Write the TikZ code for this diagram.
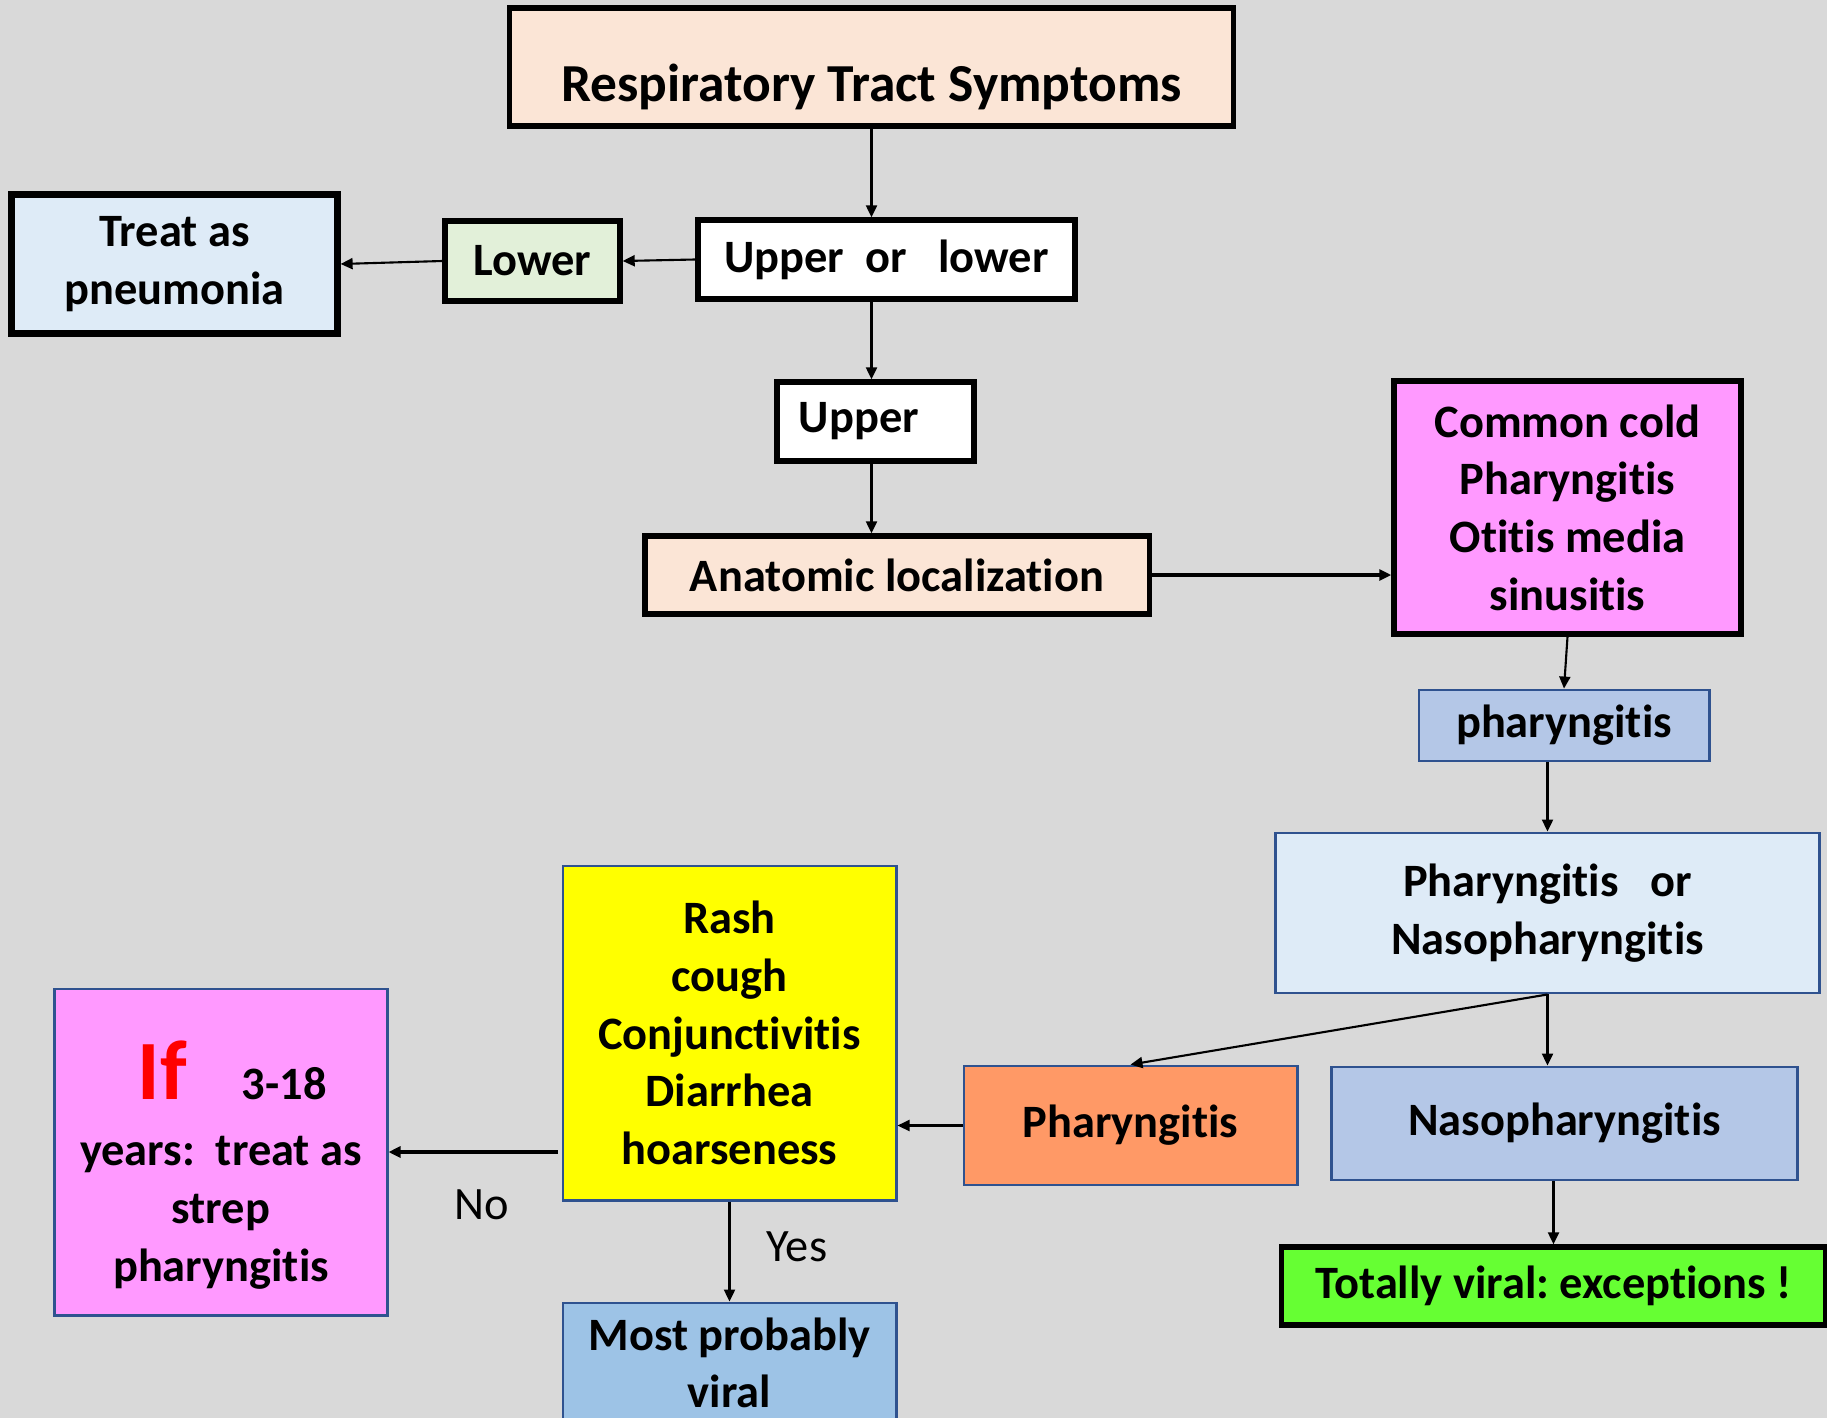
\documentclass[tikz,border=0pt]{standalone}
\usepackage{fontspec}
\setmainfont{Carlito}[Ligatures=CommonOff]
\usepackage{tikz}
\usetikzlibrary{arrows.meta}
\definecolor{rtBack}{HTML}{D9D9D9}
\definecolor{rtPeach}{HTML}{FBE5D6}
\definecolor{rtMint}{HTML}{E2F0D9}
\definecolor{rtIce}{HTML}{DEEBF7}
\definecolor{rtPink}{HTML}{FF99FF}
\definecolor{rtSteel}{HTML}{B4C7E7}
\definecolor{rtSky}{HTML}{9DC3E6}
\definecolor{rtOrange}{HTML}{FF9966}
\definecolor{rtLime}{HTML}{66FF33}
\definecolor{rtYellow}{HTML}{FFFF00}
\definecolor{rtEdge}{HTML}{2F528F}
\frenchspacing
\tikzset{
  rt diagram/.style={x=0.01cm, y=-0.01cm,
    font=\fontsize{13.2}{16.4}\selectfont\bfseries},
  rt box/.style={draw=black, line width=1.5pt, rectangle,
    align=center, inner sep=0pt},
  rt thin box/.style={rt box, draw=rtEdge, line width=0.8pt},
  rt arrow/.style={-{Triangle[length=1.2mm,width=1.1mm]}, line width=0.6pt},
  rt thick arrow/.style={rt arrow, line width=1.1pt},
  rt label/.style={font=\fontsize{13.2}{16.4}\selectfont\mdseries, inner sep=0pt}
}

\begin{document}
\begin{tikzpicture}[rt diagram]
\useasboundingbox (0,0) rectangle (1827,1418);
\fill[rtBack] (0,0) rectangle (1827,1418);
\clip (0,0) rectangle (1827,1418);
% upper part
\node[rt box, fill=rtPeach, minimum width=7.23cm, minimum height=1.18cm,
  font=\fontsize{15.2}{18}\selectfont\bfseries,
  text height=23.8pt, text depth=4pt] (symptoms) at (871.5,67) {Respiratory Tract Symptoms};
\node[rt box, fill=white, minimum width=3.77cm, minimum height=0.79cm] (upperlower) at (886.5,259.5) {Upper\ \ or\ \ \ lower};
\node[rt box, fill=rtMint, minimum width=1.75cm, minimum height=0.80cm] (lower) at (532.5,261) {Lower};
\node[rt box, fill=rtIce, line width=2pt, minimum width=3.25cm, minimum height=1.38cm] (pneumonia) at (174.5,264) {Treat as\\pneumonia};
\node[rt box, fill=white, minimum width=1.97cm, minimum height=0.79cm,
  text width=1.53cm, align=left, inner xsep=0.22cm] (upper) at (875.5,421.5) {Upper};
\node[rt box, fill=rtPeach, minimum width=5.04cm, minimum height=0.78cm] (anatomic) at (897,575) {Anatomic localization};
\node[rt box, fill=rtPink, minimum width=3.47cm, minimum height=2.53cm] (diseases) at (1567.5,507.5) {Common cold\\Pharyngitis\\Otitis media\\sinusitis};
% right branch
\node[rt thin box, fill=rtSteel, minimum width=2.90cm, minimum height=0.71cm] (pharyngitis) at (1564,725.5) {pharyngitis};
\node[rt thin box, fill=rtIce, minimum width=5.43cm, minimum height=1.60cm] (either) at (1547.5,913) {Pharyngitis\ \ \ or\\Nasopharyngitis};
\node[rt thin box, fill=rtOrange, minimum width=3.33cm, minimum height=1.19cm] (pharynx) at (1130.5,1125.5) {Pharyngitis};
\node[rt thin box, fill=rtSteel, minimum width=4.65cm, minimum height=1.13cm] (naso) at (1564.5,1123.5) {Nasopharyngitis};
\node[rt box, fill=rtLime, minimum width=5.43cm, minimum height=0.78cm] (viral) at (1553.5,1286) {Totally viral: exceptions !};
% left branch
\node[rt thin box, fill=rtYellow, minimum width=3.33cm, minimum height=3.34cm] (signs) at (729.5,1033) {Rash\\cough\\Conjunctivitis\\Diarrhea\\hoarseness};
\node[rt thin box, fill=rtPink, minimum width=3.32cm, minimum height=3.26cm] (strep) at (221,1152)
  {\hspace*{0.22cm}\rule{0pt}{24pt}{\fontsize{24}{24}\selectfont\color{red}If}\hspace{0.55cm}3-18\\[2.5pt]years:\ \ treat as\\strep\\pharyngitis};
\node[rt thin box, fill=rtSky, minimum width=3.33cm, minimum height=1.20cm] (probable) at (729.5,1363) {Most probably\\viral};
% connectors
\draw[rt arrow] (symptoms.south) -- (symptoms.south |- upperlower.north);
\draw[rt arrow] (upperlower.west) -- (lower.east);
\draw[rt arrow] (lower.west) -- (pneumonia.east);
\draw[rt arrow] (upperlower.south -| symptoms.south) -- (upper.north -| symptoms.south);
\draw[rt arrow] (upper.south -| symptoms.south) -- (anatomic.north -| symptoms.south);
\draw[rt thick arrow] (anatomic.east) -- (diseases.west |- anatomic.east);
\draw[rt arrow] (diseases.south) -- (pharyngitis.north);
\draw[rt arrow] (either.north |- pharyngitis.south) -- (either.north);
\draw[rt arrow] (either.south) -- (pharynx.north);
\draw[rt arrow] (either.south) -- (either.south |- naso.north);
\draw[rt arrow] (viral.north |- naso.south) -- (viral.north);
\draw[rt arrow] (pharynx.west) -- (signs.east |- pharynx.west);
\draw[rt thick arrow] ([xshift=-0.04cm]signs.west |- strep.east) -- (strep.east)
  node[rt label, pos=0.45, below=0.36cm] (nolabel) {No};
\draw[rt arrow] (signs.south) -- (probable.north)
  node[rt label, pos=0.45, right=0.36cm] (yeslabel) {Yes};
\end{tikzpicture}
\end{document}
